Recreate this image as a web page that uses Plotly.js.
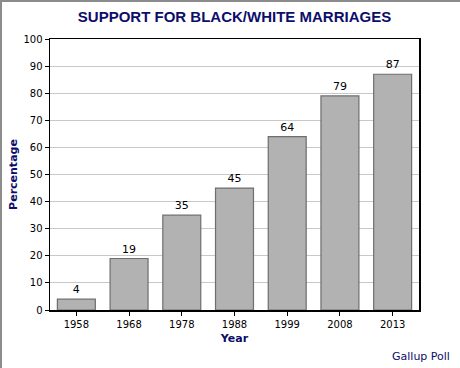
<!DOCTYPE html>
<html>
<head>
<meta charset="utf-8">
<script src="https://cdn.plot.ly/plotly-3.0.1.min.js"></script>
<style>
html,body{margin:0;padding:0;background:#fff;}
#wrap{position:relative;width:460px;height:368px;}
#chart{width:460px;height:368px;}
#frame{position:absolute;left:0;top:0;width:460px;height:368px;box-sizing:border-box;border-top:2px solid #8c8c8c;border-left:2px solid #8c8c8c;pointer-events:none;}
</style>
</head>
<body>
<div id="wrap"><div id="chart"></div><div id="frame"></div></div>
<script>
const years = ['1958','1968','1978','1988','1999','2008','2013'];
const support = [4, 19, 35, 45, 64, 79, 87];
const yTicks = [0,10,20,30,40,50,60,70,80,90,100];

const navy = '#0d0d6b';
const data = [{
  type: 'bar',
  x: years,
  y: support,
  text: support.map(String),
  textposition: 'outside',
  cliponaxis: false,
  textfont: {family: 'DejaVu Sans, sans-serif', size: 11, color: '#000'},
  marker: {color: '#b2b2b2', line: {color: '#6e6e6e', width: 1.2}},
  width: 0.72,
  hoverinfo: 'none'
}];

const layout = {
  width: 460, height: 368,
  margin: {l: 50, r: 41, t: 39, b: 58},
  paper_bgcolor: '#fff', plot_bgcolor: '#fff',
  showlegend: false,
  title: {text: '<b>SUPPORT FOR BLACK/WHITE MARRIAGES</b>', x: 0.5, xref: 'paper', y: 0.955, yanchor: 'middle',
          font: {family: 'Liberation Sans, Arial, sans-serif', size: 15, color: navy}},
  xaxis: {
    type: 'category',
    title: {text: '<b>Year</b>', font: {family: 'DejaVu Sans, sans-serif', size: 11, color: navy}, standoff: 6},
    tickfont: {family: 'DejaVu Sans, sans-serif', size: 10, color: '#000'},
    ticks: 'outside', ticklen: 4, tickcolor: '#000',
    showline: true, linecolor: '#000', linewidth: 1.5, mirror: true,
    showgrid: false, fixedrange: true
  },
  yaxis: {
    range: [0, 100],
    tickvals: yTicks,
    title: {text: '<b>Percentage</b>', font: {family: 'DejaVu Sans, sans-serif', size: 11, color: navy}, standoff: 3},
    tickfont: {family: 'DejaVu Sans, sans-serif', size: 10, color: '#000'},
    ticks: 'outside', ticklen: 4, tickcolor: '#000',
    showline: true, linecolor: '#000', linewidth: 1.5, mirror: true,
    showgrid: true, gridcolor: '#c8c8c8', gridwidth: 1,
    zeroline: false, fixedrange: true
  },
  annotations: [{
    text: 'Gallup Poll', xref: 'paper', yref: 'paper', x: 1.09, y: -0.173,
    xanchor: 'right', yanchor: 'middle', showarrow: false,
    font: {family: 'DejaVu Sans, sans-serif', size: 11, color: navy}
  }]
};

Plotly.newPlot('chart', data, layout, {displayModeBar: false, staticPlot: true});
</script>
</body>
</html>
